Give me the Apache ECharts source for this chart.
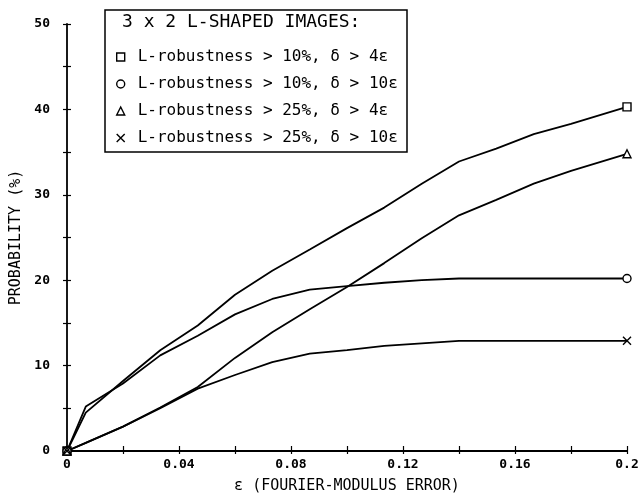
<!DOCTYPE html>
<html>
<head>
<meta charset="utf-8">
<script src="https://cdn.jsdelivr.net/npm/echarts@6/dist/echarts.min.js"></script>
<style>
  html, body { margin: 0; padding: 0; background: #fff; }
  #main { width: 644px; height: 497px; }
</style>
</head>
<body>
<div id="main"></div>
<script>
// epsilon values (x) shared by all curves
var eps = [0, 0.0067, 0.02, 0.0333, 0.0467, 0.06, 0.0733, 0.0867, 0.1, 0.1133, 0.1267, 0.14, 0.1533, 0.1667, 0.18, 0.2];
// probability (%) per curve
var sq10d4 = [0, 4.5, 8.2, 11.8, 14.7, 18.3, 21.1, 23.6, 26.1, 28.5, 31.3, 33.9, 35.4, 37.1, 38.3, 40.3];
var ci10d10 = [0, 5.2, 7.9, 11.2, 13.5, 16.0, 17.8, 18.9, 19.3, 19.7, 20.0, 20.2, 20.2, 20.2, 20.2, 20.2];
var tr25d4 = [0, 0.95, 2.85, 5.1, 7.5, 10.9, 13.9, 16.6, 19.2, 22.0, 24.9, 27.6, 29.4, 31.3, 32.8, 34.8];
var x25d10 = [0, 0.95, 2.85, 5.0, 7.3, 8.9, 10.4, 11.4, 11.8, 12.3, 12.6, 12.9, 12.9, 12.9, 12.9, 12.9];

var names = [
    'L-robustness > 10%, \u03b4 > 4\u03b5',
    'L-robustness > 10%, \u03b4 > 10\u03b5',
    'L-robustness > 25%, \u03b4 > 4\u03b5',
    'L-robustness > 25%, \u03b4 > 10\u03b5'
];
var symbols = ['rect', 'circle', 'triangle', 'path://M0,0L10,10M10,0L0,10'];
var values = [sq10d4, ci10d10, tr25d4, x25d10];

var font = 'DejaVu Sans Mono';
var myChart = echarts.init(document.getElementById('main'));

function pairs(ys) {
    var d = [];
    ys.forEach(function(y, i) {
        d.push([eps[i], y]);
    });
    return d;
}

// ticks on the outer side of each axis (the main axes draw the inner half)
var outerX = {
    type: 'value', min: 0, max: 0.2, interval: 0.02, position: 'bottom',
    axisLine: { show: false },
    axisTick: { show: true, length: 3, lineStyle: { color: '#000', width: 1.2 } },
    axisLabel: { show: false },
    splitLine: { show: false }
};
var outerY = {
    type: 'value', min: 0, max: 50, interval: 5, position: 'left',
    axisLine: { show: false },
    axisTick: { show: true, length: 4, lineStyle: { color: '#000', width: 1.2 } },
    axisLabel: { show: false },
    splitLine: { show: false }
};

var option = {
    backgroundColor: '#fff',
    animation: false,
    grid: { left: 67, right: 17, top: 24, bottom: 46, outerBoundsMode: 'none' },
    // legend box with title
    graphic: [
        {
            type: 'rect',
            shape: { x: 105, y: 10, width: 302, height: 142 },
            style: { fill: '#fff', stroke: '#000', lineWidth: 1.5 },
            z: 50
        },
        {
            type: 'text',
            x: 122, y: 22,
            style: { text: '3 x 2 L-SHAPED IMAGES:', font: '18px "DejaVu Sans Mono"', fill: '#000', verticalAlign: 'middle' },
            z: 51
        }
    ],
    legend: {
        orient: 'vertical',
        left: 111,
        top: 43,
        itemWidth: 8,
        itemHeight: 8,
        itemGap: 9,
        z: 52,
        textStyle: { fontFamily: font, fontSize: 16, color: '#000', lineHeight: 18, padding: [0, 0, 0, 8] },
        itemStyle: { color: '#fff', borderColor: '#000', borderWidth: 1.4 },
        data: names.map(function(n, i) {
            return { name: n, icon: symbols[i] };
        })
    },
    xAxis: [{
        type: 'value',
        min: 0,
        max: 0.2,
        interval: 0.02,
        name: '\u03b5 (FOURIER-MODULUS ERROR)',
        nameLocation: 'middle',
        nameGap: 28,
        nameTextStyle: { fontFamily: font, fontSize: 15, color: '#000' },
        axisLine: { lineStyle: { color: '#000', width: 1.8 } },
        axisTick: { inside: true, length: 5, lineStyle: { color: '#000', width: 1.2 } },
        splitLine: { show: false },
        axisLabel: {
            fontFamily: font, fontSize: 13, fontWeight: 'bold', color: '#000', margin: 7,
            formatter: function(v) {
                return Math.round(v * 100) % 4 === 0 ? String(+v.toFixed(2)) : '';
            }
        }
    }, outerX],
    yAxis: [{
        type: 'value',
        min: 0,
        max: 50,
        interval: 5,
        name: 'PROBABILITY (%)',
        nameLocation: 'middle',
        nameGap: 40,
        nameTextStyle: { fontFamily: font, fontSize: 15, color: '#000' },
        axisLine: { show: true, lineStyle: { color: '#000', width: 1.8 } },
        axisTick: { show: true, inside: true, length: 4, lineStyle: { color: '#000', width: 1.2 } },
        splitLine: { show: false },
        axisLabel: {
            fontFamily: font, fontSize: 13, fontWeight: 'bold', color: '#000', margin: 17,
            formatter: function(v) {
                return v % 10 === 0 ? String(v) : '';
            }
        }
    }, outerY],
    series: values.map(function(ys, i) {
        var last = ys.length - 1;
        return {
            name: names[i],
            type: 'line',
            symbol: symbols[i],
            showAllSymbol: true,
            clip: false,
            symbolSize: function(val, params) {
                return (params.dataIndex === 0 || params.dataIndex === last) ? 8 : 0;
            },
            lineStyle: { color: '#000', width: 1.8 },
            itemStyle: { color: '#fff', borderColor: '#000', borderWidth: 1.4 },
            data: pairs(ys)
        };
    })
};

myChart.setOption(option);
</script>
</body>
</html>
